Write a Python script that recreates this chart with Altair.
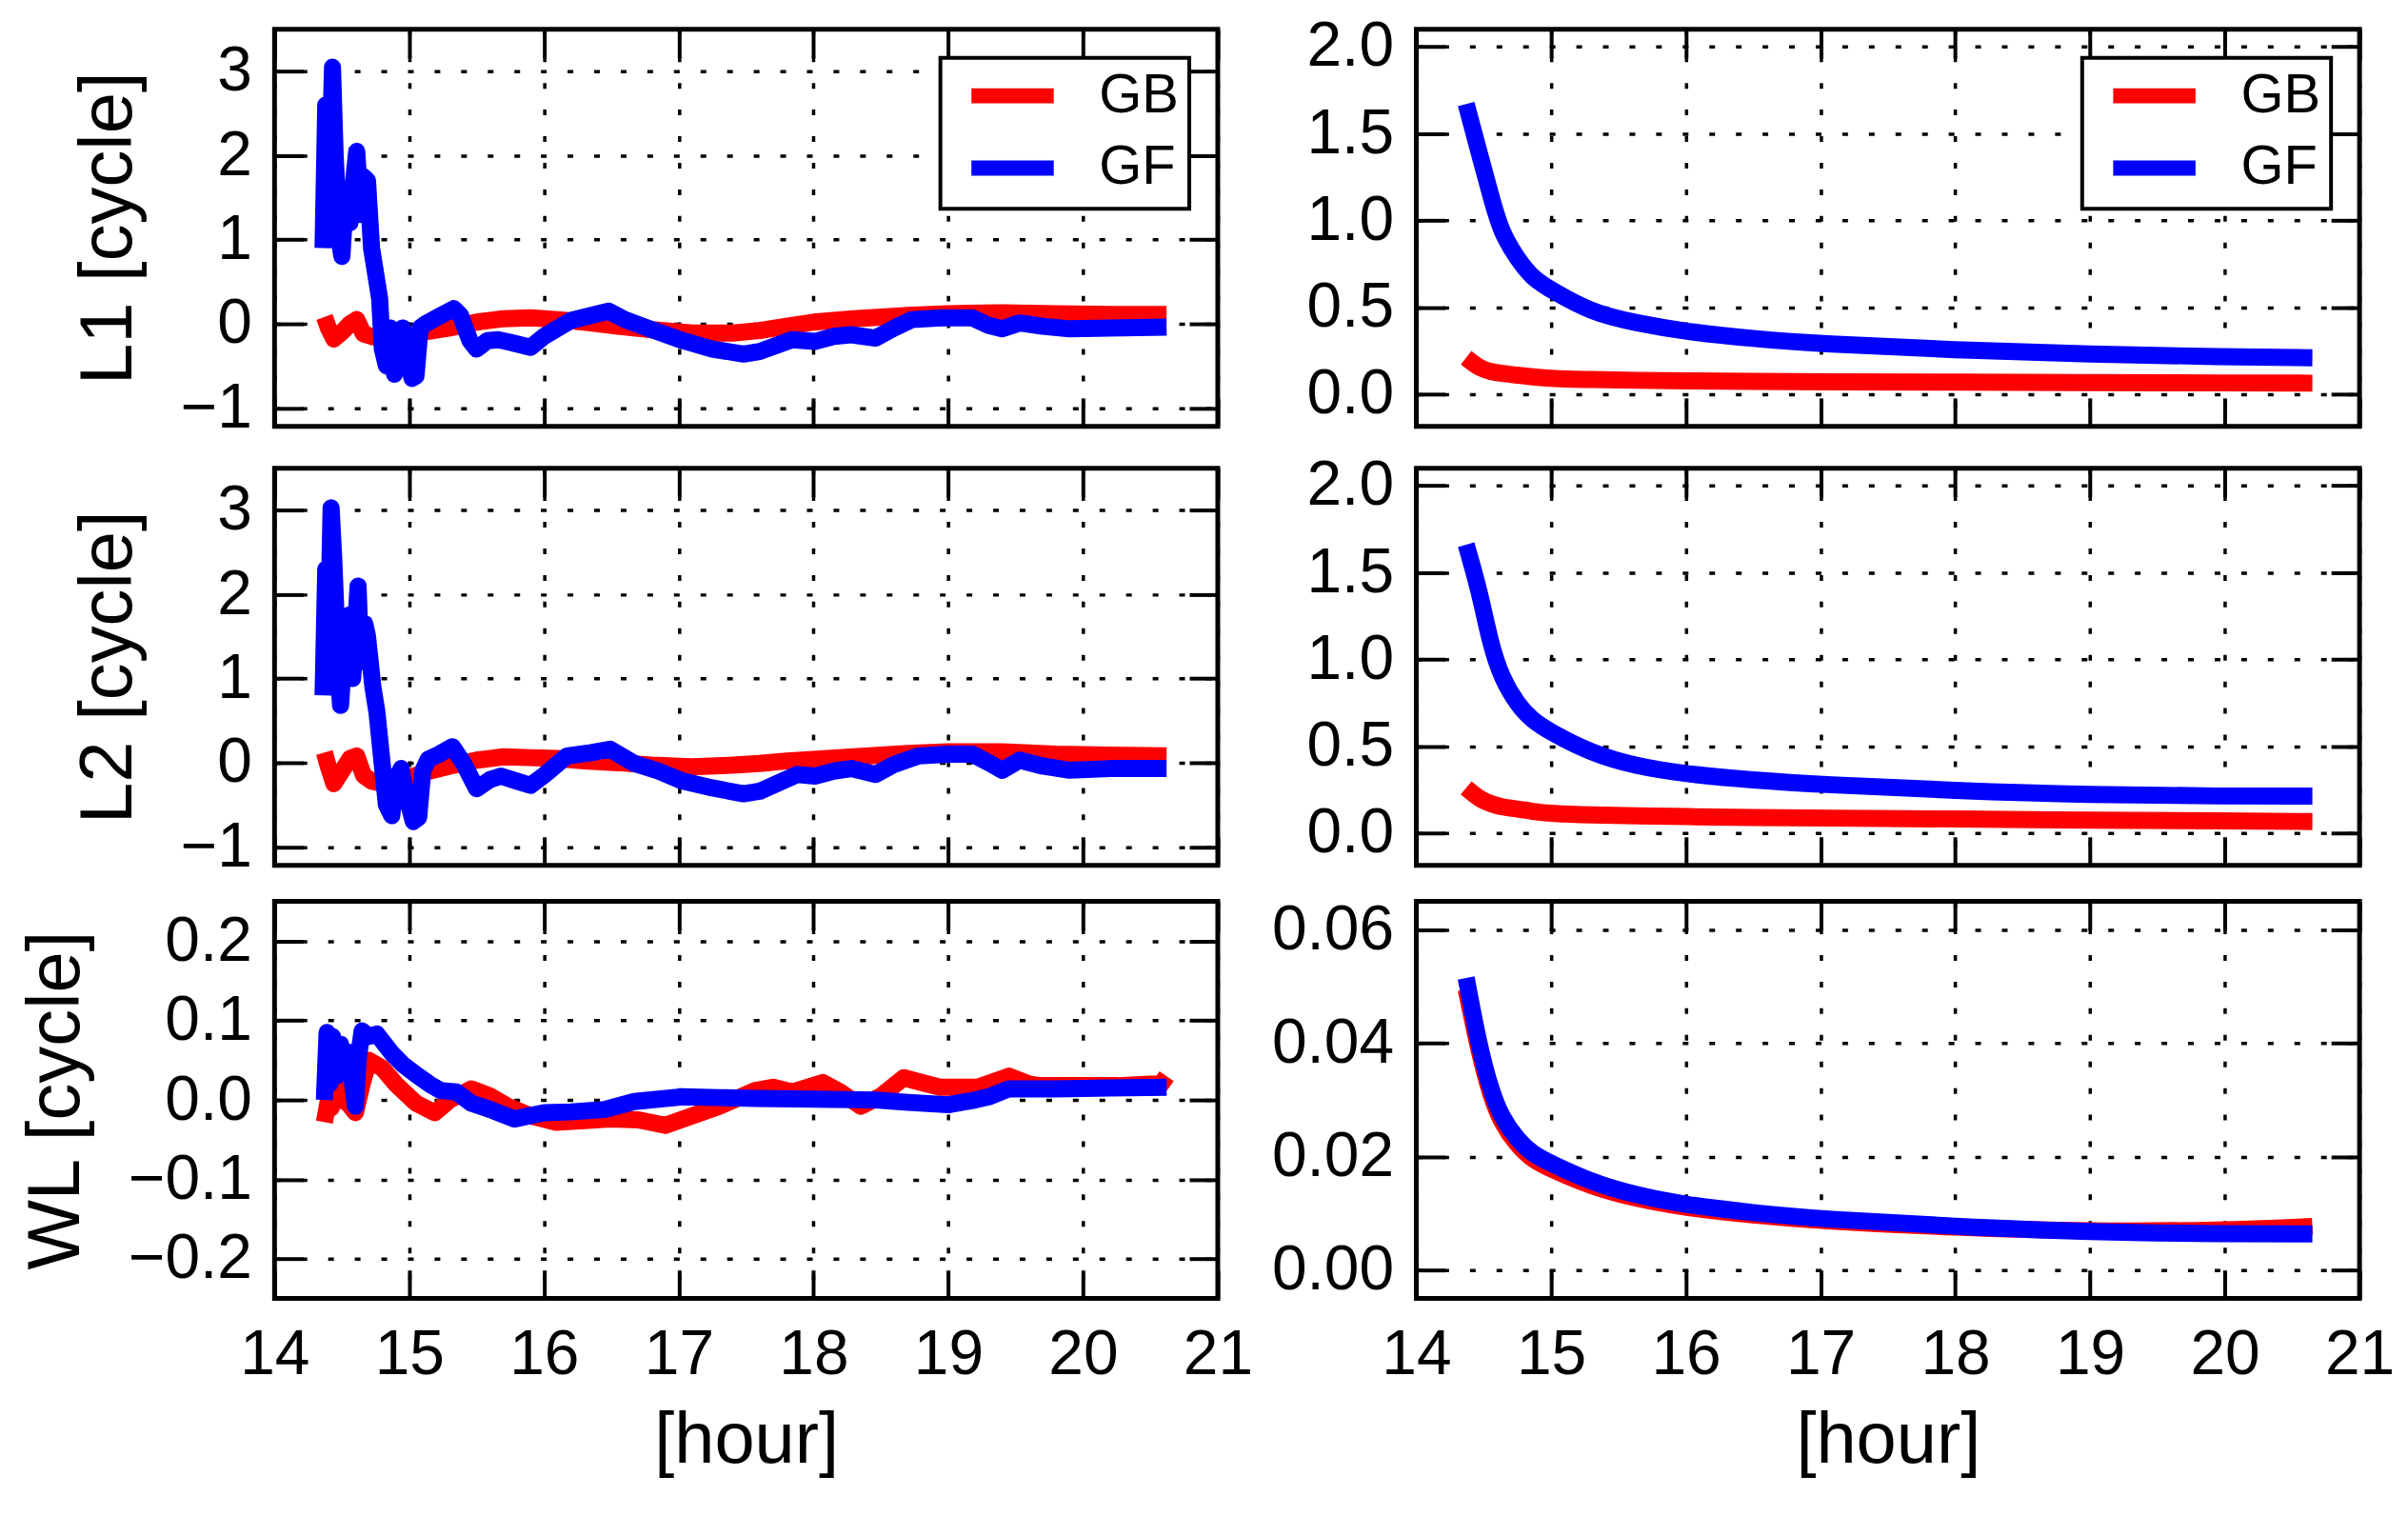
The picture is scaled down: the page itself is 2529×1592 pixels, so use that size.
import altair as alt
import pandas as pd

# ---------------- data ----------------
SERIES = ["GB", "GF"]
XTICKS = [14, 15, 16, 17, 18, 19, 20, 21]

L1_GB_X = [14.37, 14.40, 14.44, 14.50, 14.56, 14.61, 14.66, 14.72, 14.80, 14.90, 15.00, 15.10, 15.30, 15.50,
           15.70, 15.90, 16.10, 16.30, 16.55, 16.80, 17.10, 17.40, 17.60, 17.80, 18.00, 18.30, 18.70, 19.00,
           19.40, 19.80, 20.20, 20.62]
L1_GB_Y = [0.08, -0.05, -0.18, -0.10, 0.00, 0.05, -0.12, -0.15, -0.17, -0.20, -0.18, -0.10, -0.05, 0.02,
           0.06, 0.07, 0.05, 0.02, -0.03, -0.07, -0.11, -0.11, -0.08, -0.03, 0.02, 0.06, 0.10, 0.12,
           0.13, 0.12, 0.11, 0.11]
L1_GF_X = [14.36, 14.38, 14.40, 14.43, 14.45, 14.48, 14.50, 14.53, 14.56, 14.59, 14.61, 14.64, 14.66, 14.69,
           14.72, 14.75, 14.78, 14.80, 14.83, 14.86, 14.89, 14.92, 14.95, 14.98, 15.02, 15.05, 15.08, 15.12,
           15.20, 15.33, 15.38, 15.45, 15.50, 15.58, 15.66, 15.75, 15.90, 16.00, 16.20, 16.35, 16.48, 16.60,
           16.80, 17.03, 17.25, 17.48, 17.60, 17.84, 18.01, 18.15, 18.28, 18.46, 18.60, 18.73, 18.95, 19.18,
           19.30, 19.40, 19.53, 19.70, 19.90, 20.20, 20.62]
L1_GF_Y = [0.90, 2.60, 1.20, 3.05, 2.00, 1.00, 0.80, 1.60, 1.20, 1.75, 2.05, 1.30, 1.75, 1.70,
           0.90, 0.60, 0.30, -0.30, -0.50, -0.05, -0.60, -0.30, -0.05, -0.30, -0.65, -0.62, -0.05, 0.00,
           0.07, 0.18, 0.10, -0.20, -0.30, -0.20, -0.19, -0.22, -0.28, -0.15, 0.04, 0.10, 0.15, 0.05,
           -0.07, -0.20, -0.30, -0.36, -0.33, -0.19, -0.21, -0.15, -0.13, -0.17, -0.05, 0.05, 0.07, 0.07,
           -0.02, -0.06, 0.01, -0.03, -0.06, -0.05, -0.04]

L2_GB_X = L1_GB_X
L2_GB_Y = [0.12, -0.05, -0.25, -0.10, 0.05, 0.08, -0.15, -0.22, -0.25, -0.22, -0.18, -0.12, -0.04, 0.03,
           0.07, 0.06, 0.05, 0.02, 0.00, -0.03, -0.05, -0.03, -0.01, 0.02, 0.04, 0.07, 0.11, 0.13,
           0.13, 0.10, 0.09, 0.08]
L2_GF_X = [14.36, 14.38, 14.40, 14.42, 14.44, 14.47, 14.49, 14.52, 14.56, 14.58, 14.62, 14.64, 14.67, 14.69,
           14.73, 14.76, 14.80, 14.83, 14.87, 14.90, 14.94, 14.98, 15.03, 15.07, 15.10, 15.14, 15.22, 15.32,
           15.40, 15.50, 15.60, 15.68, 15.80, 15.90, 16.00, 16.17, 16.35, 16.49, 16.67, 16.85, 17.03, 17.25,
           17.48, 17.60, 17.88, 18.01, 18.15, 18.28, 18.46, 18.60, 18.78, 19.00, 19.18, 19.30, 19.40, 19.53,
           19.70, 19.90, 20.20, 20.62]
L2_GF_Y = [0.80, 2.30, 1.50, 3.03, 2.40, 1.20, 0.68, 1.40, 1.76, 1.00, 2.10, 1.20, 1.65, 1.50,
           0.90, 0.60, -0.03, -0.50, -0.63, -0.20, -0.07, -0.40, -0.70, -0.65, -0.10, 0.04, 0.10, 0.19,
           0.00, -0.31, -0.20, -0.16, -0.22, -0.27, -0.15, 0.08, 0.12, 0.16, -0.01, -0.10, -0.22, -0.30,
           -0.37, -0.34, -0.14, -0.16, -0.10, -0.07, -0.14, -0.02, 0.08, 0.10, 0.10, 0.00, -0.09, 0.03,
           -0.04, -0.09, -0.07, -0.07]

WL_GB_X = [14.37, 14.40, 14.42, 14.46, 14.50, 14.55, 14.60, 14.65, 14.70, 14.80, 14.90, 15.05, 15.19, 15.30,
           15.46, 15.60, 15.73, 15.90, 16.09, 16.30, 16.49, 16.70, 16.90, 17.10, 17.30, 17.57, 17.70, 17.84,
           18.07, 18.20, 18.35, 18.50, 18.67, 18.80, 18.94, 19.22, 19.45, 19.60, 19.68, 20.00, 20.26, 20.50,
           20.58, 20.62]
WL_GB_Y = [-0.028, 0.000, -0.010, 0.020, 0.000, -0.005, -0.016, 0.020, 0.050, 0.040, 0.020, -0.004, -0.016, 0.000,
           0.014, 0.005, -0.008, -0.020, -0.028, -0.026, -0.024, -0.025, -0.032, -0.020, -0.008, 0.012, 0.016, 0.010,
           0.022, 0.010, -0.008, 0.005, 0.028, 0.022, 0.016, 0.016, 0.030, 0.020, 0.018, 0.018, 0.018, 0.020,
           0.020, 0.030]
WL_GF_X = [14.37, 14.39, 14.41, 14.43, 14.46, 14.49, 14.52, 14.55, 14.58, 14.60, 14.62, 14.65, 14.70, 14.76,
           14.87, 14.95, 15.05, 15.15, 15.23, 15.35, 15.46, 15.60, 15.78, 16.00, 16.20, 16.45, 16.67, 17.03,
           17.30, 17.57, 18.00, 18.46, 18.70, 19.00, 19.20, 19.30, 19.45, 19.80, 20.20, 20.62]
WL_GF_Y = [0.000, 0.085, 0.020, 0.080, 0.030, 0.070, 0.040, 0.060, 0.020, -0.008, 0.050, 0.087, 0.080, 0.083,
           0.059, 0.045, 0.032, 0.020, 0.012, 0.010, -0.004, -0.012, -0.024, -0.016, -0.015, -0.012, -0.002, 0.004,
           0.003, 0.002, 0.001, 0.000, -0.003, -0.006, 0.000, 0.004, 0.014, 0.014, 0.015, 0.016]

R_X = [14.37, 14.47, 14.55, 14.63, 14.75, 14.86, 15.00, 15.30, 15.63, 16.00, 16.50, 17.00, 18.00, 19.00, 20.00, 20.65]
R1_GB = [0.21, 0.15, 0.13, 0.12, 0.11, 0.10, 0.09, 0.085, 0.08, 0.077, 0.074, 0.072, 0.070, 0.067, 0.065, 0.064]
R1_GF = [1.67, 1.38, 1.15, 0.93, 0.78, 0.67, 0.60, 0.47, 0.41, 0.36, 0.32, 0.29, 0.255, 0.23, 0.215, 0.21]
R2_GB = [0.26, 0.195, 0.17, 0.15, 0.14, 0.125, 0.113, 0.105, 0.10, 0.095, 0.09, 0.087, 0.082, 0.075, 0.070, 0.067]
R2_GF = [1.66, 1.39, 1.09, 0.90, 0.74, 0.65, 0.58, 0.46, 0.385, 0.34, 0.305, 0.28, 0.245, 0.22, 0.213, 0.213]
R3_GB = [0.0495, 0.038, 0.031, 0.026, 0.022, 0.0195, 0.0178, 0.0147, 0.0126, 0.011, 0.0097, 0.0087, 0.0075, 0.0068, 0.0070, 0.0077]
R3_GF = [0.0515, 0.039, 0.032, 0.027, 0.023, 0.0205, 0.0188, 0.0155, 0.0132, 0.0115, 0.0101, 0.0090, 0.0077, 0.0067, 0.0064, 0.0064]

L_DOMAIN = [-1.22, 3.5]
L_TICKS = [-1, 0, 1, 2, 3]
R_DOMAIN = [-0.185, 2.1]
R_TICKS = [0.0, 0.5, 1.0, 1.5, 2.0]
WL_DOMAIN = [-0.25, 0.25]
WL_TICKS = [-0.2, -0.1, 0.0, 0.1, 0.2]
WR_DOMAIN = [-0.005, 0.065]
WR_TICKS = [0.0, 0.02, 0.04, 0.06]

FONT = "Liberation Sans, Arial, sans-serif"
W, H = 993, 418
TL = 30
BLACK = "#000000"
GRID = dict(gridColor=BLACK, gridDash=[6, 22], gridWidth=3.5, gridOpacity=1)
# inward ticks (matplotlib frame style): axis moved inside by TL, ticks drawn back to the frame
TICK = dict(ticks=True, tickSize=TL, tickWidth=4, tickColor=BLACK, tickOpacity=1,
            tickDash=[100, 0], offset=-TL, domain=False)


def frame(xs_gb, ys_gb, xs_gf, ys_gf):
    rows = [{"x": x, "v": y, "s": "GB"} for x, y in zip(xs_gb, ys_gb)]
    rows += [{"x": x, "v": y, "s": "GF"} for x, y in zip(xs_gf, ys_gf)]
    return pd.DataFrame(rows)


def panel(df, ydom, yticks, yfmt, ytitle, bottom, legend, interp):
    xs = alt.Scale(domain=[14, 21], nice=False, zero=False)
    ys = alt.Scale(domain=ydom, nice=False, zero=False)
    xaxis = alt.Axis(orient="bottom", values=XTICKS, format="d", grid=True, labels=bottom,
                     labelFont=FONT, labelFontSize=66, labelPadding=27, labelFlush=False,
                     labelColor=BLACK, titleFont=FONT, titleFontSize=76, titleFontWeight="normal",
                     titleColor=BLACK, titlePadding=20, **TICK, **GRID)
    yaxis = alt.Axis(orient="left", values=yticks, format=yfmt, grid=True,
                     labelFont=FONT, labelFontSize=66, labelPadding=24, labelFlush=False,
                     labelColor=BLACK, titleFont=FONT, titleFontSize=78, titleFontWeight="normal",
                     titleColor=BLACK, titlePadding=36, **TICK, **GRID)
    if legend:
        leg = alt.Legend(title=None, orient="top-right", offset=30, labelFont=FONT,
                         labelFontSize=58, labelColor=BLACK, symbolType="M-3,0H3",
                         symbolSize=835, symbolStrokeWidth=16, symbolOffset=36, labelOffset=62,
                         padding=11, rowPadding=12, strokeColor=BLACK, fillColor="white")
    else:
        leg = None
    color = alt.Color("s:N", scale=alt.Scale(domain=SERIES, range=["#ff0000", "#0000ff"]),
                      legend=leg)
    lines = alt.Chart(df).mark_line(strokeWidth=18, interpolate=interp, strokeJoin="round").encode(
        x=alt.X("x:Q", scale=xs, axis=xaxis, title="[hour]" if bottom else None),
        y=alt.Y("v:Q", scale=ys, axis=yaxis, title=ytitle),
        color=color,
    )
    # inward ticks on the top and right edges
    ghost = alt.Chart(df).mark_line(opacity=0).encode(
        x=alt.X("x:Q", scale=xs, title=" ",
                axis=alt.Axis(orient="top", values=XTICKS, labels=False, grid=False,
                              titleFontSize=2, titlePadding=5, **TICK)),
        y=alt.Y("v:Q", scale=ys, title=None,
                axis=alt.Axis(orient="right", values=yticks, labels=False, grid=False, **TICK)),
        detail="s:N",
    )
    return alt.layer(lines, ghost).resolve_axis(x="independent", y="independent").properties(
        width=W, height=H)


pA = panel(frame(L1_GB_X, L1_GB_Y, L1_GF_X, L1_GF_Y), L_DOMAIN, L_TICKS, "d", "L1 [cycle]", False, True, "linear")
pB = panel(frame(R_X, R1_GB, R_X, R1_GF), R_DOMAIN, R_TICKS, ".1f", None, False, True, "basis")
pC = panel(frame(L2_GB_X, L2_GB_Y, L2_GF_X, L2_GF_Y), L_DOMAIN, L_TICKS, "d", "L2 [cycle]", False, False, "linear")
pD = panel(frame(R_X, R2_GB, R_X, R2_GF), R_DOMAIN, R_TICKS, ".1f", None, False, False, "basis")
pE = panel(frame(WL_GB_X, WL_GB_Y, WL_GF_X, WL_GF_Y), WL_DOMAIN, WL_TICKS, ".1f", "WL [cycle]", True, False, "linear")
pF = panel(frame(R_X, R3_GB, R_X, R3_GF), WR_DOMAIN, WR_TICKS, ".2f", None, True, False, "basis")

chart = alt.concat(pA, pB, pC, pD, pE, pF, columns=2,
                   spacing={"row": 9, "column": 14}).resolve_scale(
    x="independent", y="independent", color="independent"
).resolve_legend(color="independent").properties(
    padding={"left": 10, "top": 3, "right": 3, "bottom": 3}, background="white"
).configure_view(stroke=BLACK, strokeWidth=5).configure_legend(strokeWidth=4)

chart.save("out.html", embed_options={"renderer": "svg", "actions": False})
